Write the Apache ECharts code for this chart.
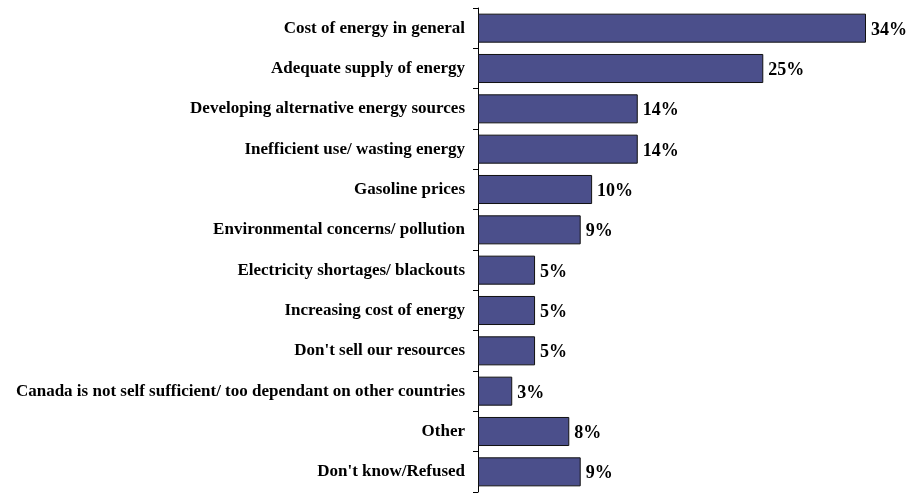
<!DOCTYPE html>
<html>
<head>
<meta charset="utf-8">
<script src="https://cdn.jsdelivr.net/npm/echarts@6/dist/echarts.min.js"></script>
<style>
  html, body { margin: 0; padding: 0; background: #fff; }
  #chart { width: 906px; height: 498px; }
</style>
</head>
<body>
<div id="chart"></div>
<script>
// categories top to bottom as in the picture
const categories = [
  'Cost of energy in general',
  'Adequate supply of energy',
  'Developing alternative energy sources',
  'Inefficient use/ wasting energy',
  'Gasoline prices',
  'Environmental concerns/ pollution',
  'Electricity shortages/ blackouts',
  'Increasing cost of energy',
  "Don't sell our resources",
  'Canada is not self sufficient/ too dependant on other countries',
  'Other',
  "Don't know/Refused"
]
const values = [34, 25, 14, 14, 10, 9, 5, 5, 5, 3, 8, 9]

const chart = echarts.init(document.getElementById('chart'))

chart.setOption({
  animation: false,
  grid: {
    top: 8,
    bottom: 6,
    left: 478,
    right: 40,
    containLabel: false
  },
  xAxis: {
    type: 'value',
    min: 0,
    max: 34,
    show: false
  },
  yAxis: {
    type: 'category',
    inverse: true,
    data: categories,
    axisLine: { show: true, lineStyle: { color: '#000', width: 1 } },
    axisTick: { show: true, length: 5, lineStyle: { color: '#000' } },
    axisLabel: {
      margin: 13,
      padding: [4, 0, 0, 0],
      color: '#000',
      fontFamily: 'Liberation Serif',
      fontWeight: 'bold',
      fontSize: 17,
      letterSpacing: 0.2
    }
  },
  series: [{
    type: 'bar',
    data: values,
    barCategoryGap: '28%',
    itemStyle: {
      color: '#4b4f8b',
      borderColor: '#111',
      borderWidth: 1
    },
    label: {
      show: true,
      position: 'right',
      distance: 5,
      offset: [0, 2],
      formatter: '{c}%',
      color: '#000',
      fontFamily: 'Liberation Serif',
      fontWeight: 'bold',
      fontSize: 18
    }
  }]
})
</script>
</body>
</html>
